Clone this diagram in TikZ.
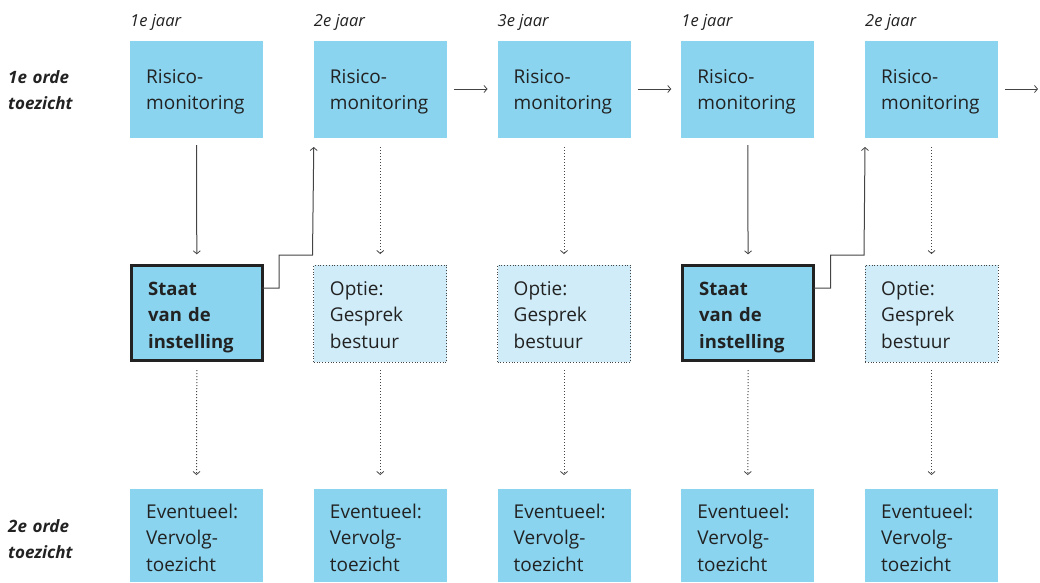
\documentclass[tikz,border=0pt]{standalone}
\usepackage{fontspec}
\setmainfont{Open Sans}
\usetikzlibrary{arrows.meta}
\definecolor{boxblue}{HTML}{8AD4EF}
\definecolor{lightblue}{HTML}{D0ECF8}
\definecolor{ink}{HTML}{222222}
\definecolor{linegray}{HTML}{444444}
\begin{document}
\begin{tikzpicture}[x=1pt,y=-1pt,
  boxbase/.style={anchor=north west,minimum width=133pt,minimum height=97pt,inner sep=0pt,outer sep=0pt},
  topbox/.style={boxbase,fill=boxblue},
  staatbox/.style={anchor=north west,minimum width=131pt,minimum height=95pt,inner sep=0pt,outer sep=0pt,fill=boxblue,draw=ink,line width=2.6pt},
  optbox/.style={boxbase,fill=lightblue,draw=linegray,dotted,line width=0.8pt},
  botbox/.style={boxbase,minimum height=93pt,fill=boxblue},
  txt/.style={anchor=base west,inner sep=0pt,text width=125pt,align=left,text=ink,font=\fontsize{19}{26.5}\selectfont},
  btxt/.style={txt,font=\fontsize{18.5}{26.5}\selectfont\bfseries},
  year/.style={anchor=base west,inner sep=0pt,text=ink,font=\fontsize{16.5}{20}\selectfont\itshape},
  side/.style={anchor=base west,inner sep=0pt,text width=100pt,align=left,text=ink,font=\fontsize{17}{26}\selectfont\bfseries\itshape},
  tip/.style={-{Straight Barb[length=3pt,width=7pt,line width=0.8pt]}},
  solidarrow/.style={tip,draw=linegray,line width=1pt},
  dotarrow/.style={tip,draw=linegray,line width=1pt,dotted}]
\useasboundingbox (0,0) rectangle (1040,582);
% side labels
\node[side] (s1) at (8,83) {1e orde\\toezicht};
\node[side] (s2) at (8,532) {2e orde\\toezicht};
% year labels
\node[year] (y1) at (130,26) {1e jaar};
\node[year] (y2) at (313.75,26) {2e jaar};
\node[year] (y3) at (497.5,26) {3e jaar};
\node[year] (y4) at (681.25,26) {1e jaar};
\node[year] (y5) at (865,26) {2e jaar};
% top row
\foreach \i/\x in {1/130,2/313.75,3/497.5,4/681.25,5/865}{
  \node[topbox] (t\i) at (\x,41) {};
  \node[txt] (tt\i) at (\x+16,83) {Risico-\\monitoring};
  \node[botbox] (b\i) at (\x,489) {};
  \node[txt] (bt\i) at (\x+16,518) {Eventueel:\\Vervolg-\\toezicht};
}
% middle row
\node[staatbox] (m1) at (131.3,265.3) {};
\node[btxt] (mt1) at (148,295) {Staat\\van de\\instelling};
\node[optbox] (m2) at (313.75,265) {};
\node[txt] (mt2) at (329.75,295) {Optie:\\Gesprek\\bestuur};
\node[optbox] (m3) at (497.5,265) {};
\node[txt] (mt3) at (513.5,295) {Optie:\\Gesprek\\bestuur};
\node[staatbox] (m4) at (682.55,265.3) {};
\node[btxt] (mt4) at (699,295) {Staat\\van de\\instelling};
\node[optbox] (m5) at (865,265) {};
\node[txt] (mt5) at (881,295) {Optie:\\Gesprek\\bestuur};
% horizontal arrows
\coordinate (endarrow) at (1038,89);
\draw[solidarrow] ([xshift=7pt]t2.east |- 0,89) -- ([xshift=-10pt]t3.west |- 0,89);
\draw[solidarrow] ([xshift=7pt]t3.east |- 0,89) -- ([xshift=-10pt]t4.west |- 0,89);
\draw[solidarrow] ([xshift=7pt]t5.east |- 0,89) -- (endarrow);
% vertical arrows top -> middle
\draw[solidarrow] ([yshift=-7pt]t1.south) -- ([yshift=11pt]m1.north);
\draw[solidarrow] ([yshift=-7pt]t4.south) -- ([yshift=11pt]m4.north);
\foreach \i in {2,3,5}{
  \draw[dotarrow] ([yshift=-9pt]t\i.south) -- ([yshift=11pt]m\i.north);
}
% middle -> bottom
\foreach \i in {1,2,3,4,5}{
  \draw[dotarrow] (m\i.south |- 0,370) -- ([yshift=14pt]b\i.north);
}
% staat -> next risico
\draw[solidarrow] (m1.east |- 0,288) -- (279,288) -- (279,255) -- (312.5,255) -- ([yshift=-9pt]t2.south west);
\draw[solidarrow] (m4.east |- 0,288) -- (830.5,288) -- (830.5,255) -- (864,255) -- ([yshift=-9pt]t5.south west);
\end{tikzpicture}
\end{document}
